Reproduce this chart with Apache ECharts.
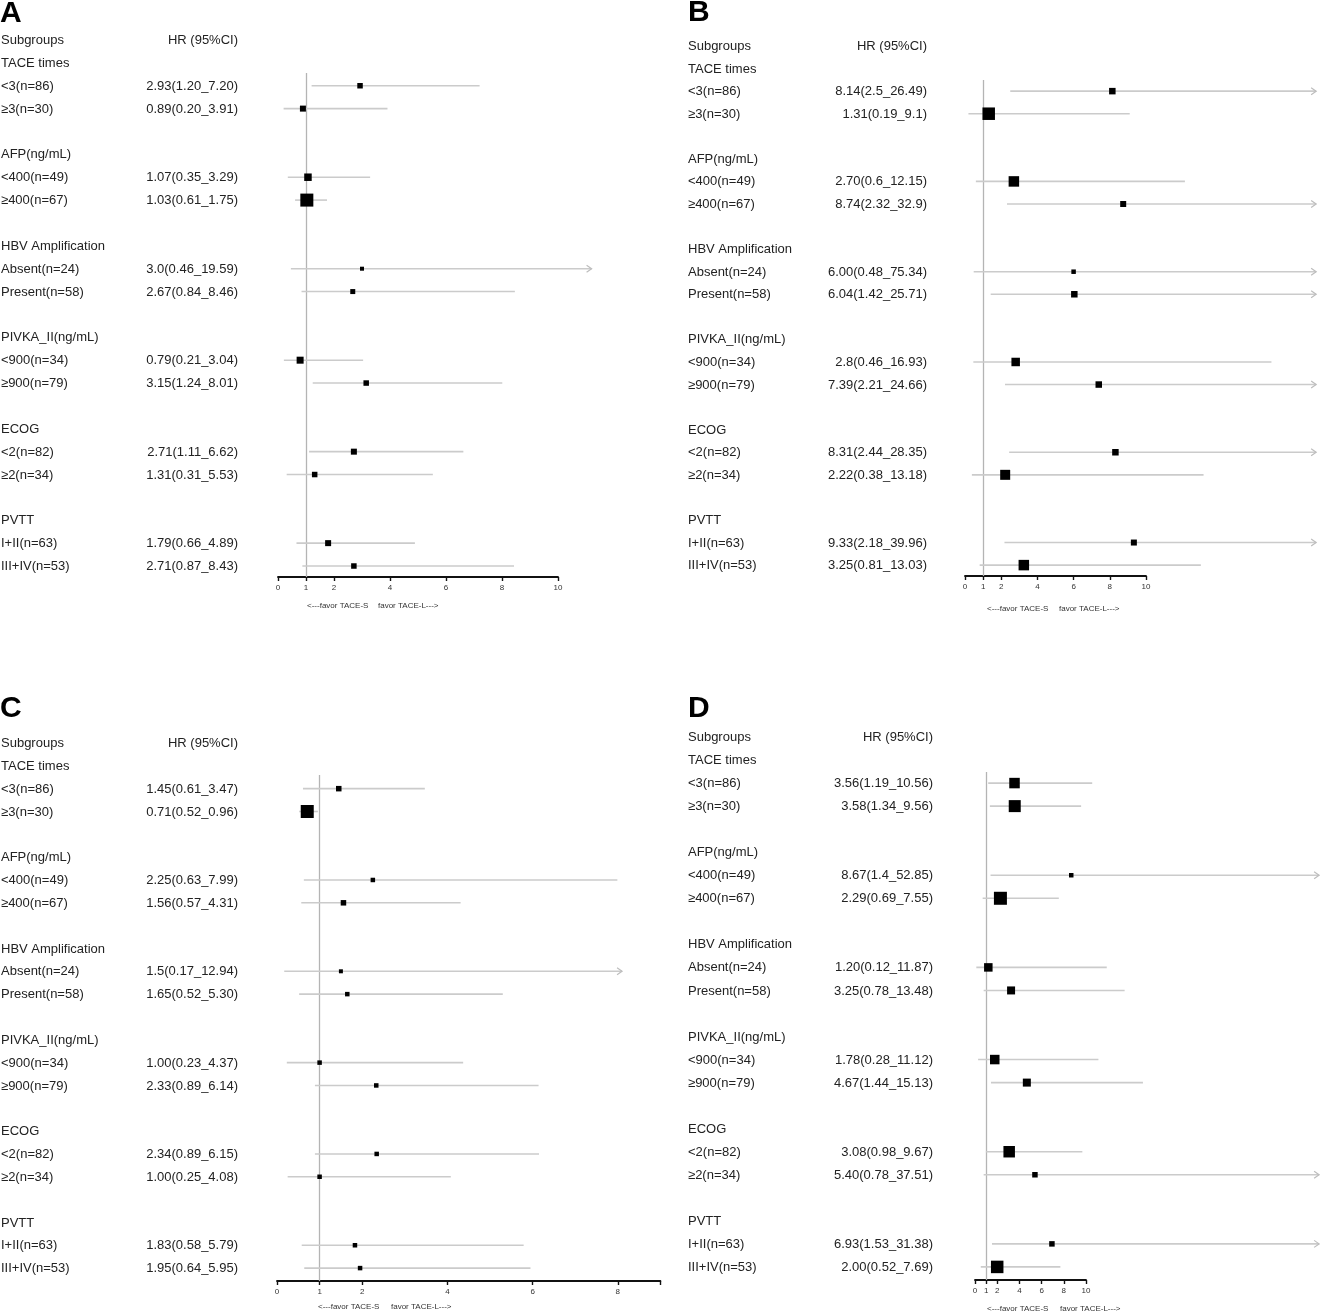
<!DOCTYPE html>
<html>
<head>
<meta charset="utf-8">
<title>Subgroup forest plots</title>
<script src="https://cdn.jsdelivr.net/npm/echarts@6/dist/echarts.min.js"></script>
<style>
  html, body { margin: 0; padding: 0; background: #fff; }
  #main { width: 1328px; height: 1314px; }
</style>
</head>
<body>
<div id="main"></div>
<script>
/* rows shared by the four panels */
const groups = ['TACE times', 'AFP(ng/mL)', 'HBV Amplification', 'PIVKA_II(ng/mL)', 'ECOG', 'PVTT'];
const subgroups = ['<3(n=86)', '≥3(n=30)', '<400(n=49)', '≥400(n=67)', 'Absent(n=24)', 'Present(n=58)',
  '<900(n=34)', '≥900(n=79)', '<2(n=82)', '≥2(n=34)', 'I+II(n=63)', 'III+IV(n=53)'];

/* A */
const hrA = ['2.93', '0.89', '1.07', '1.03', '3.0', '2.67', '0.79', '3.15', '2.71', '1.31', '1.79', '2.71'];
const loA = ['1.20', '0.20', '0.35', '0.61', '0.46', '0.84', '0.21', '1.24', '1.11', '0.31', '0.66', '0.87'];
const hiA = ['7.20', '3.91', '3.29', '1.75', '19.59', '8.46', '3.04', '8.01', '6.62', '5.53', '4.89', '8.43'];
const weightA = [5.5, 6, 7.5, 13, 4, 5, 7, 5.5, 6, 5.5, 6, 5.5];

/* B */
const hrB = ['8.14', '1.31', '2.70', '8.74', '6.00', '6.04', '2.8', '7.39', '8.31', '2.22', '9.33', '3.25'];
const loB = ['2.5', '0.19', '0.6', '2.32', '0.48', '1.42', '0.46', '2.21', '2.44', '0.38', '2.18', '0.81'];
const hiB = ['26.49', '9.1', '12.15', '32.9', '75.34', '25.71', '16.93', '24.66', '28.35', '13.18', '39.96', '13.03'];
const weightB = [6.5, 12.5, 10.5, 6, 4.5, 6.5, 8.5, 6.5, 6.5, 10, 6, 10.5];

/* C */
const hrC = ['1.45', '0.71', '2.25', '1.56', '1.5', '1.65', '1.00', '2.33', '2.34', '1.00', '1.83', '1.95'];
const loC = ['0.61', '0.52', '0.63', '0.57', '0.17', '0.52', '0.23', '0.89', '0.89', '0.25', '0.58', '0.64'];
const hiC = ['3.47', '0.96', '7.99', '4.31', '12.94', '5.30', '4.37', '6.14', '6.15', '4.08', '5.79', '5.95'];
const weightC = [5.5, 13, 4.5, 5.5, 4, 4.5, 4.5, 4.5, 4.5, 4.5, 4.5, 4.5];

/* D */
const hrD = ['3.56', '3.58', '8.67', '2.29', '1.20', '3.25', '1.78', '4.67', '3.08', '5.40', '6.93', '2.00'];
const loD = ['1.19', '1.34', '1.4', '0.69', '0.12', '0.78', '0.28', '1.44', '0.98', '0.78', '1.53', '0.52'];
const hiD = ['10.56', '9.56', '52.85', '7.55', '11.87', '13.48', '11.12', '15.13', '9.67', '37.51', '31.38', '7.69'];
const weightD = [10.5, 12, 4.5, 13, 8.5, 8, 9.5, 8, 11.5, 5.5, 5.5, 12.5];

/* x-axis ticks */
const ticks10 = [0, 1, 2, 4, 6, 8, 10];
const ticks9 = [0, 1, 2, 4, 6, 8, 9];
const labels9 = [0, 1, 2, 4, 6, 8];

const FONT = '"Liberation Sans", Arial, Helvetica, sans-serif';
const TEXT_COLOR = '#222';

// layout of each panel (pixels)
const panels = [
  { letter: 'A', lx: 0, ly: 14, hr: hrA, lo: loA, hi: hiA, w: weightA,
    nameX: 1, hrRight: 238, row0: 40, step: 22.87, x0: 278, scale: 28.0, clip: 11.2,
    axisMax: 10, axisY: 577, vTop: 73, ticks: ticks10, labels: ticks10,
    favorY: 606, favorS: 307, favorL: 378 },
  { letter: 'B', lx: 688, ly: 13, hr: hrB, lo: loB, hi: hiB, w: weightB,
    nameX: 688, hrRight: 927, row0: 46, step: 22.57, x0: 965, scale: 18.1, clip: 19.4,
    axisMax: 10, axisY: 576, vTop: 80, ticks: ticks10, labels: ticks10,
    favorY: 609, favorS: 987, favorL: 1059 },
  { letter: 'C', lx: 0, ly: 709, hr: hrC, lo: loC, hi: hiC, w: weightC,
    nameX: 1, hrRight: 238, row0: 743, step: 22.83, x0: 277, scale: 42.6, clip: 8.1,
    axisMax: 9, axisY: 1281, vTop: 775, ticks: ticks9, labels: labels9,
    favorY: 1307, favorS: 318, favorL: 391 },
  { letter: 'D', lx: 688, ly: 709, hr: hrD, lo: loD, hi: hiD, w: weightD,
    nameX: 688, hrRight: 933, row0: 737, step: 23.04, x0: 975, scale: 11.1, clip: 31.0,
    axisMax: 10, axisY: 1280, vTop: 772, ticks: ticks10, labels: ticks10,
    favorY: 1309, favorS: 987, favorL: 1060 }
];

// row index of subgroup i (header row 0, group title, 2 subgroups, blank)
function rowOf(i) { return 2 + Math.floor(i / 2) * 4 + i % 2; }

const grid = [], xAxis = [], yAxis = [], series = [], graphic = [];

panels.forEach(function (p) {
  const g = grid.length;

  // text columns
  const items = [
    { x: 0, row: 0, text: 'Subgroups', align: 'left' },
    { x: 1, row: 0, text: 'HR (95%CI)', align: 'right' }
  ];
  groups.forEach(function (name, k) {
    items.push({ x: 0, row: 1 + k * 4, text: name, align: 'left' });
  });
  subgroups.forEach(function (name, i) {
    items.push({ x: 0, row: rowOf(i), text: name, align: 'left' });
    items.push({ x: 1, row: rowOf(i), text: p.hr[i] + '(' + p.lo[i] + '_' + p.hi[i] + ')', align: 'right' });
  });

  grid.push({ left: p.nameX, top: p.row0, width: p.hrRight - p.nameX, height: 23 * p.step });
  xAxis.push({ gridIndex: g, type: 'value', min: 0, max: 1, show: false });
  yAxis.push({ gridIndex: g, type: 'value', min: 0, max: 23, inverse: true, show: false });

  series.push({
    type: 'custom', xAxisIndex: g, yAxisIndex: g, silent: true, animation: false,
    data: items.map(function (t) { return [t.x, t.row]; }),
    renderItem: function (params, api) {
      const t = items[params.dataIndex];
      const pt = api.coord([api.value(0), api.value(1)]);
      return {
        type: 'text', x: pt[0], y: pt[1] + 0.5,
        style: { text: t.text, align: t.align, verticalAlign: 'middle',
                 font: '13px ' + FONT, fill: TEXT_COLOR }
      };
    }
  });

  // plot area
  grid.push({ left: p.x0, top: p.vTop, width: p.clip * p.scale, height: p.axisY - p.vTop });
  xAxis.push({ gridIndex: g + 1, type: 'value', min: 0, max: p.clip, show: false });
  yAxis.push({ gridIndex: g + 1, type: 'value', inverse: true, show: false,
               min: (p.vTop - p.row0) / p.step, max: (p.axisY - p.row0) / p.step });

  // reference line at HR = 1 (underneath everything)
  series.push({
    type: 'line', xAxisIndex: g + 1, yAxisIndex: g + 1, silent: true, animation: false, z: 1,
    data: [],
    markLine: {
      silent: true, symbol: 'none', animation: false, z: 1,
      label: { show: false },
      lineStyle: { color: '#b4b4b4', width: 1.3, type: 'solid' },
      data: [{ xAxis: 1 }]
    }
  });

  const clip = p.clip;
  series.push({
    type: 'custom', xAxisIndex: g + 1, yAxisIndex: g + 1, silent: true, animation: false, z: 2,
    data: subgroups.map(function (s, i) {
      return [parseFloat(p.lo[i]), parseFloat(p.hi[i]), rowOf(i)];
    }),
    encode: { x: [0, 1], y: 2 },
    renderItem: function (params, api) {
      const lo = api.value(0), hi = api.value(1), r = api.value(2);
      const a = api.coord([lo, r]);
      const b = api.coord([Math.min(hi, clip), r]);
      const children = [{
        type: 'line', shape: { x1: a[0], y1: a[1], x2: b[0], y2: b[1] },
        style: { stroke: '#cbcbcb', lineWidth: 1.6 }
      }];
      if (hi > clip) {
        children.push({
          type: 'polyline',
          shape: { points: [[b[0] - 5, b[1] - 3.5], [b[0], b[1]], [b[0] - 5, b[1] + 3.5]] },
          style: { stroke: '#bdbdbd', lineWidth: 1.2, fill: null }
        });
      }
      return { type: 'group', children: children };
    }
  });

  const wts = p.w;
  series.push({
    type: 'scatter', xAxisIndex: g + 1, yAxisIndex: g + 1, silent: true, animation: false, z: 10,
    symbol: 'rect',
    symbolSize: function (val, prm) { return wts[prm.dataIndex]; },
    itemStyle: { color: '#000', opacity: 1 },
    data: subgroups.map(function (s, i) { return [parseFloat(p.hr[i]), rowOf(i)]; })
  });

  // x axis, 0..axisMax only
  grid.push({ left: p.x0, top: p.axisY - 10, width: p.axisMax * p.scale, height: 10 });
  xAxis.push({
    gridIndex: g + 2, type: 'value', min: 0, max: p.axisMax, position: 'bottom',
    splitLine: { show: false },
    axisLine: { show: true, onZero: false, lineStyle: { color: '#111', width: 1.8 } },
    axisTick: { show: true, length: 4, customValues: p.ticks, lineStyle: { color: '#111', width: 1.4 } },
    axisLabel: { show: true, customValues: p.labels, fontSize: 8, color: '#333', margin: 7, fontFamily: FONT }
  });
  yAxis.push({ gridIndex: g + 2, type: 'value', min: 0, max: 1, show: false });

  // panel letter and direction notes
  graphic.push({
    type: 'text', left: p.lx, top: p.ly - 15, silent: true,
    style: { text: p.letter, font: 'bold 30px ' + FONT, fill: '#000' }
  });
  graphic.push({
    type: 'text', x: p.favorS, y: p.favorY, silent: true,
    style: { text: '<---favor TACE-S', font: '8px ' + FONT, fill: '#333', verticalAlign: 'middle' }
  });
  graphic.push({
    type: 'text', x: p.favorL, y: p.favorY, silent: true,
    style: { text: 'favor TACE-L--->', font: '8px ' + FONT, fill: '#333', verticalAlign: 'middle' }
  });
});

const chart = echarts.init(document.getElementById('main'), null, { renderer: 'canvas' });
chart.setOption({
  backgroundColor: '#fff',
  animation: false,
  textStyle: { fontFamily: FONT },
  grid: grid,
  xAxis: xAxis,
  yAxis: yAxis,
  series: series,
  graphic: graphic
});
</script>
</body>
</html>
